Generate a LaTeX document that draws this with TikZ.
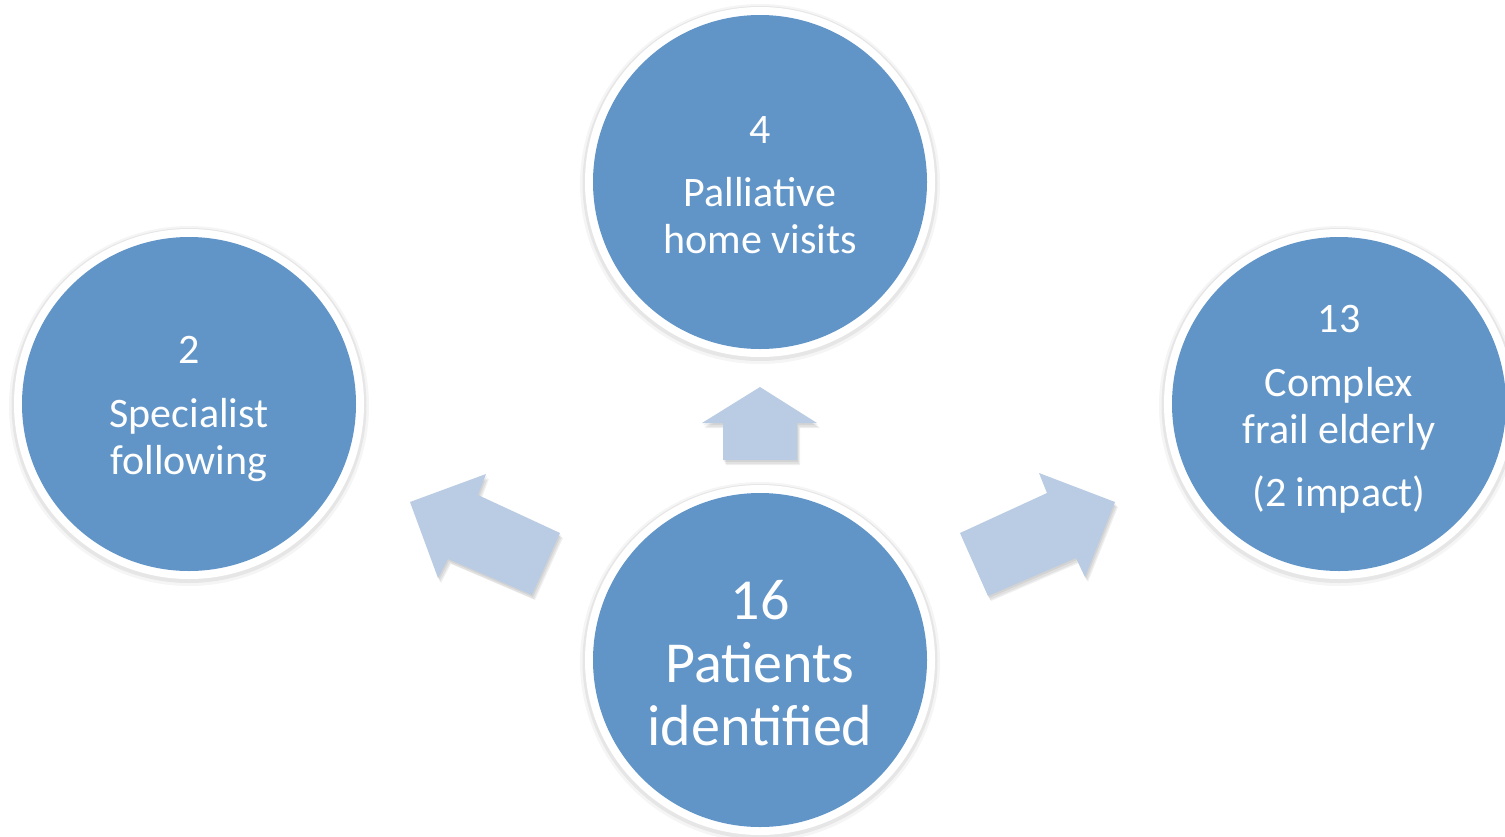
\documentclass[tikz,border=0pt]{standalone}
\usepackage{fontspec}
\setmainfont{Carlito}
\definecolor{bubblefill}{HTML}{6195C8}
\definecolor{arrowfill}{HTML}{BACCE3}
\begin{document}
\begin{tikzpicture}[x=1pt,y=-1pt,
  bubble/.style={circle, fill=bubblefill, minimum size=334pt, inner sep=0pt},
  bubbletext/.style={text=white, inner sep=0pt, align=center,
    font=\fontsize{42pt}{47pt}\selectfont},
  bigtext/.style={bubbletext, font=\fontsize{58pt}{63pt}\selectfont},
  blockarrow/.style={fill=arrowfill},
  arrowshade/.style={fill=black, opacity=0.06}]
\useasboundingbox (0,0) rectangle (1505,836);
\fill[white] (0,0) rectangle (1505,836);

% white rings with a soft shadow behind each bubble
\foreach \p in {(760,182),(189,404),(1339,404),(760,660)} {
  \fill[black, opacity=0.04] \p ++(0,2) circle (180pt);
  \fill[black, opacity=0.06] \p ++(0,1.5) circle (177.5pt);
  \fill[white] \p circle (175pt);
}

% bubbles
\node[bubble] (top) at (760,182) {};
\node[bubble] (left) at (189,404) {};
\node[bubble] (right) at (1339,404) {};
\node[bubble] (center) at (760,660) {};

% bubble labels
\node[bubbletext] (toptext) at ([yshift=-3pt]top.center) {4\\[16pt]Palliative\\home visits};
\node[bubbletext] (lefttext) at ([yshift=-5pt]left.center) {2\\[17pt]Specialist\\following};
\node[bubbletext] (righttext) at ([yshift=-5pt]right.center) {13\\[17pt]Complex\\frail elderly\\[16pt](2 impact)};
\node[bigtext] (centertext) at ([yshift=-3pt]center.center) {16\\Patients\\identified};

% block arrows: soft shadow layers, then the arrow itself
\foreach \s in {(1,2),(2,4),(3,5)} {
  \fill[arrowshade, shift={\s}] (760,387) -- (817,423) -- (797,423) -- (797,460)
    -- (723,460) -- (723,423) -- (702,423) -- cycle;
  \fill[arrowshade, shift={\s}] (410,502) -- (486,474) -- (478,495) -- (560,533)
    -- (532,595) -- (448,559) -- (438,578) -- cycle;
  \fill[arrowshade, shift={\s}] (1115,502) -- (1039,473) -- (1047,493) -- (960,533)
    -- (988,596) -- (1076,558) -- (1085,577) -- cycle;
}
\fill[blockarrow] (760,387) -- (817,423) -- (797,423) -- (797,460)
  -- (723,460) -- (723,423) -- (702,423) -- cycle;
\fill[blockarrow] (410,502) -- (486,474) -- (478,495) -- (560,533)
  -- (532,595) -- (448,559) -- (438,578) -- cycle;
\fill[blockarrow] (1115,502) -- (1039,473) -- (1047,493) -- (960,533)
  -- (988,596) -- (1076,558) -- (1085,577) -- cycle;
\end{tikzpicture}
\end{document}
